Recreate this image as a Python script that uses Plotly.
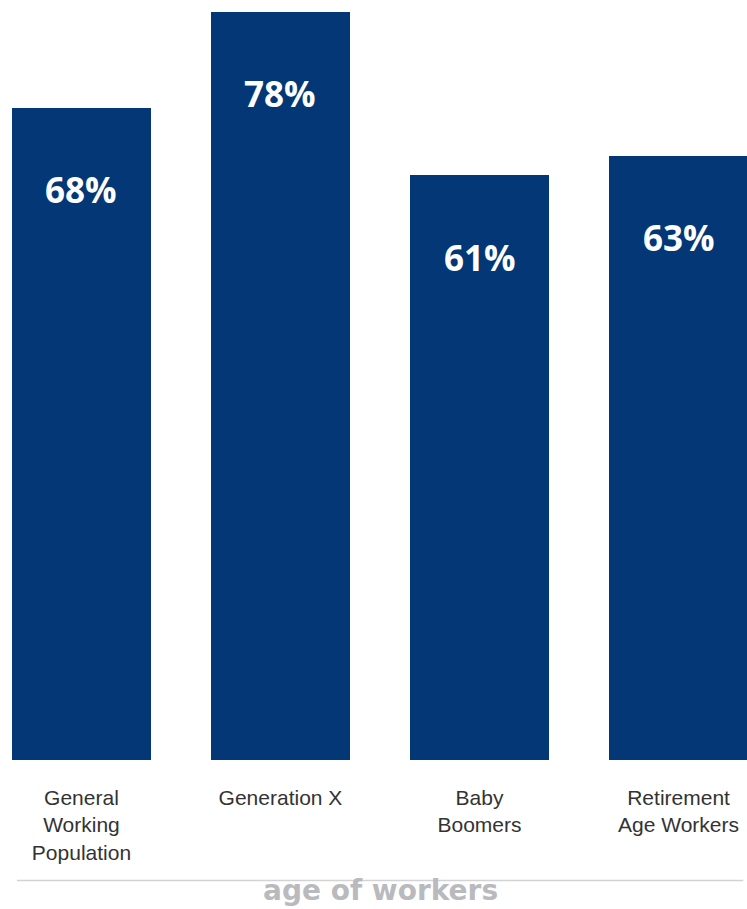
import plotly.graph_objects as go

categories = ["General<br>Working<br>Population", "Generation X", "Baby<br>Boomers", "Retirement<br>Age Workers"]
values = [68, 78, 61, 63]
value_labels = ["68%", "78%", "61%", "63%"]
footer_text = "age of workers"

BAR_COLOR = "#033775"

fig = go.Figure()
fig.add_trace(go.Bar(
    x=list(range(len(categories))),
    y=values,
    width=0.698,
    marker=dict(color=BAR_COLOR, line=dict(width=0)),
    hoverinfo="skip",
))

for i, (v, lab) in enumerate(zip(values, value_labels)):
    fig.add_annotation(
        x=i, y=v, xref="x", yref="y",
        text=lab, showarrow=False,
        yshift=-82, yanchor="middle", xanchor="center",
        font=dict(family="Open Sans", size=35, color="white", weight="bold"),
    )

fig.add_shape(
    type="line", xref="paper", yref="paper",
    x0=0.0068, x1=0.995, y0=-0.1586, y1=-0.1586,
    line=dict(color="#d3d3d3", width=1.5),
)
fig.add_annotation(
    x=0.5014, y=-0.1955, xref="paper", yref="paper",
    text=footer_text, showarrow=False,
    xanchor="center", yanchor="bottom",
    font=dict(family="DejaVu Sans", size=28, color="#b9babd", weight="bold"),
)

fig.update_layout(
    width=747, height=909,
    margin=dict(l=12, r=0, t=0, b=149),
    paper_bgcolor="white", plot_bgcolor="white",
    showlegend=False,
    bargap=0,
    xaxis=dict(
        range=[-0.349, 3.344],
        tickmode="array",
        tickvals=list(range(len(categories))),
        ticktext=categories,
        showgrid=False, zeroline=False, showline=False,
        ticks="", ticklabelstandoff=23,
        tickfont=dict(family="Liberation Sans", size=21, color="#333333"),
        fixedrange=True,
    ),
    yaxis=dict(
        range=[0, 79.25],
        visible=False, showgrid=False, zeroline=False,
        fixedrange=True,
    ),
)

fig.write_html("out.html")
